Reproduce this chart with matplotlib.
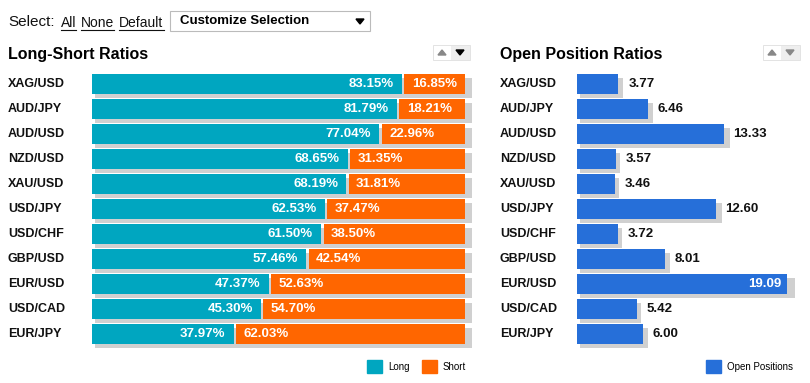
import matplotlib
matplotlib.use("Agg")
import matplotlib.pyplot as plt
import matplotlib.transforms as mtransforms
from matplotlib.patches import Rectangle, Polygon

plt.rcParams["font.family"] = ["Liberation Sans", "DejaVu Sans"]

pairs = ["XAG/USD", "AUD/JPY", "AUD/USD", "NZD/USD", "XAU/USD", "USD/JPY",
         "USD/CHF", "GBP/USD", "EUR/USD", "USD/CAD", "EUR/JPY"]
long_pct = [83.15, 81.79, 77.04, 68.65, 68.19, 62.53, 61.50, 57.46, 47.37, 45.30, 37.97]
short_pct = [16.85, 18.21, 22.96, 31.35, 31.81, 37.47, 38.50, 42.54, 52.63, 54.70, 62.03]
open_pos = [3.77, 6.46, 13.33, 3.57, 3.46, 12.60, 3.72, 8.01, 19.09, 5.42, 6.00]

TEAL = "#00a6c0"
ORANGE = "#ff6600"
BLUE = "#266fd9"
SHADOW = "#d0d0d0"

W, H = 810, 383
fig = plt.figure(figsize=(W / 100, H / 100), dpi=100)


def px_axes(x0, y0, x1, y1):
    return fig.add_axes([x0 / W, 1 - y1 / H, (x1 - x0) / W, (y1 - y0) / H])


# background axes in pixel coordinates for the page furniture
bg = fig.add_axes([0, 0, 1, 1])
bg.set_xlim(0, W)
bg.set_ylim(H, 0)
bg.axis("off")

bg.text(8, 22, "Select:", fontsize=11, va="center", color="#111111")
for x, s, tw in [(61, "All", 15), (81, "None", 33), (119, "Default", 45)]:
    bg.text(x, 23, s, fontsize=10, va="center", color="#111111")
    bg.plot([x, x + tw], [30, 30], color="#111111", lw=0.8)
bg.add_patch(Rectangle((170, 11), 200, 20, facecolor="white", edgecolor="#bbbbbb", lw=0.8))
bg.text(180, 21, "Customize Selection", fontsize=9.5, fontweight="bold", va="center")
bg.add_patch(Polygon([[356, 19], [364, 19], [360, 24]], color="black"))

bg.text(8, 55, "Long-Short Ratios", fontsize=11.5, fontweight="bold", va="center")
bg.text(500, 55, "Open Position Ratios", fontsize=11.5, fontweight="bold", va="center")


def arrows(x0, down_color):
    bg.add_patch(Rectangle((x0, 45), 37, 15, facecolor="#eeeeee", edgecolor="#e0e0e0", lw=0.6))
    bg.add_patch(Rectangle((x0 + 0.5, 45.5), 17.5, 14, facecolor="white", edgecolor="none"))
    bg.add_patch(Polygon([[x0 + 5, 55], [x0 + 13, 55], [x0 + 9, 50]], color="#888888"))
    bg.add_patch(Polygon([[x0 + 23, 50], [x0 + 31, 50], [x0 + 27, 55]], color=down_color))


arrows(433, "black")
arrows(763, "#888888")

# legends
bg.add_patch(Rectangle((367, 360), 15, 13, color=TEAL))
bg.text(388, 367, "Long", fontsize=7, va="center")
bg.add_patch(Rectangle((422, 360), 15, 13, color=ORANGE))
bg.text(443, 367, "Short", fontsize=7, va="center")
bg.add_patch(Rectangle((706, 360), 15, 13, color=BLUE))
bg.text(727, 367, "Open Positions", fontsize=7, va="center")

shift = mtransforms.ScaledTranslation(3 / 100, -4 / 100, fig.dpi_scale_trans)
rows = list(range(len(pairs)))

# left panel: long/short ratio bars
ax1 = px_axes(92, 71.5, 465, 346.5)
ax1.set_xlim(0, 100)
ax1.set_ylim(len(pairs) - 0.5, -0.5)
ax1.axis("off")
ax1.barh(rows, [101] * len(rows), height=0.8, color=SHADOW,
         transform=ax1.transData + shift, clip_on=False)
ax1.barh(rows, long_pct, height=0.8, color=TEAL)
ax1.barh(rows, [s - 0.6 for s in short_pct], left=[l + 0.6 for l in long_pct],
         height=0.8, color=ORANGE)
for y, l, s, name in zip(rows, long_pct, short_pct, pairs):
    ax1.annotate(f"{l:.2f}%", (l, y), xytext=(-6, 0), textcoords="offset points",
                 ha="right", va="center", color="white", fontsize=9.5, fontweight="bold")
    ax1.annotate(f"{s:.2f}%", (l, y), xytext=(7, 0), textcoords="offset points",
                 ha="left", va="center", color="white", fontsize=9.5, fontweight="bold")
    bg.text(8, 84 + 25 * y, name, fontsize=9, fontweight="bold", va="center", color="#111111")

# right panel: open position ratios
ax2 = px_axes(577, 71.5, 800, 346.5)
ax2.set_xlim(0, 223 / 11.0)
ax2.set_ylim(len(pairs) - 0.5, -0.5)
ax2.axis("off")
ax2.barh(rows, [v * 1.025 for v in open_pos], height=0.8, color=SHADOW,
         transform=ax2.transData + shift, clip_on=False)
ax2.barh(rows, open_pos, height=0.8, color=BLUE)
vmax = max(open_pos)
for y, v, name in zip(rows, open_pos, pairs):
    if v == vmax:
        ax2.annotate(f"{v:.2f}", (v, y), xytext=(-4, 0), textcoords="offset points",
                     ha="right", va="center", color="white", fontsize=9.5, fontweight="bold")
    else:
        ax2.annotate(f"{v:.2f}", (v, y), xytext=(7, 0), textcoords="offset points",
                     ha="left", va="center", color="#111111", fontsize=9.5, fontweight="bold")
    bg.text(500, 84 + 25 * y, name, fontsize=9, fontweight="bold", va="center", color="#111111")

fig.savefig("out.png", dpi=100)
